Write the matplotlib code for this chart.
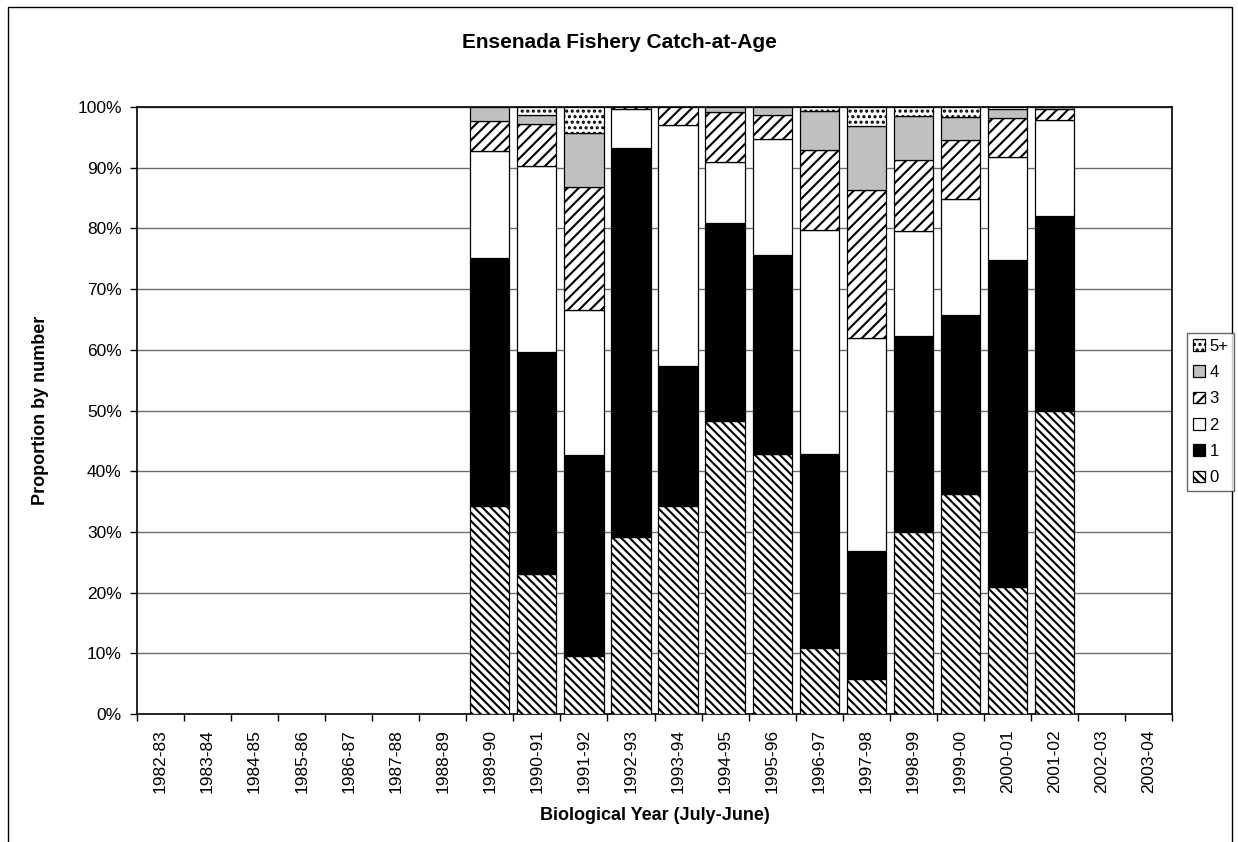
import numpy as np
import matplotlib
matplotlib.use("Agg")
import matplotlib.pyplot as plt
from matplotlib.patches import Patch, Rectangle
from matplotlib.ticker import FuncFormatter, MultipleLocator

plt.rcParams['font.family'] = ['Liberation Sans', 'DejaVu Sans']
plt.rcParams['hatch.linewidth'] = 1.5

years = ["1982-83", "1983-84", "1984-85", "1985-86", "1986-87", "1987-88", "1988-89",
         "1989-90", "1990-91", "1991-92", "1992-93", "1993-94", "1994-95", "1995-96",
         "1996-97", "1997-98", "1998-99", "1999-00", "2000-01", "2001-02", "2002-03", "2003-04"]

# proportions (%) by age; years without data are 0
age0 = [0, 0, 0, 0, 0, 0, 0, 34.3, 23.1, 9.6, 29.2, 34.2, 48.3, 42.9, 10.9, 5.7, 30.0, 36.2, 20.9, 50.0, 0, 0]
age1 = [0, 0, 0, 0, 0, 0, 0, 40.9, 36.6, 33.1, 64.1, 23.2, 32.6, 32.8, 31.9, 21.2, 32.3, 29.5, 53.9, 32.1, 0, 0]
age2 = [0, 0, 0, 0, 0, 0, 0, 17.6, 30.5, 23.9, 6.4, 39.7, 10.1, 19.0, 36.9, 35.0, 17.3, 19.2, 17.0, 15.8, 0, 0]
age3 = [0, 0, 0, 0, 0, 0, 0, 4.9, 7.0, 20.2, 0.3, 2.9, 8.1, 4.0, 13.2, 24.4, 11.6, 9.7, 6.4, 1.8, 0, 0]
age4 = [0, 0, 0, 0, 0, 0, 0, 2.3, 1.4, 8.9, 0.0, 0.0, 0.9, 1.3, 6.5, 10.6, 7.3, 3.8, 1.5, 0.3, 0, 0]
age5 = [0, 0, 0, 0, 0, 0, 0, 0.0, 1.4, 4.3, 0.0, 0.0, 0.0, 0.0, 0.6, 3.1, 1.5, 1.6, 0.3, 0.0, 0, 0]

labels = ["0", "1", "2", "3", "4", "5+"]
series = [age0, age1, age2, age3, age4, age5]
styles = [
    dict(facecolor="white", hatch="\\\\\\\\"),
    dict(facecolor="black", hatch=None),
    dict(facecolor="white", hatch=None),
    dict(facecolor="white", hatch="///"),
    dict(facecolor="#c0c0c0", hatch=None),
    dict(facecolor="white", hatch="..."),
]

W, H = 1238, 842
fig = plt.figure(figsize=(W / 100, H / 100), dpi=100)
ax = fig.add_axes([137 / W, 1 - 714 / H, (1172 - 137) / W, (714 - 107) / H])

x = np.arange(len(years))
bottom = np.zeros(len(years))
for vals, st in zip(series, styles):
    v = np.array(vals, dtype=float)
    m = v > 0
    ax.bar(x[m], v[m], bottom=bottom[m], width=0.833, edgecolor="black",
           linewidth=0.9, zorder=3, **st)
    bottom += v

ax.set_xlim(-0.5, len(years) - 0.5)
ax.set_ylim(0, 100)
ax.yaxis.set_major_locator(MultipleLocator(10))
ax.yaxis.set_major_formatter(FuncFormatter(lambda v, p: f"{v:.0f}%"))
ax.grid(axis="y", color="#6e6e6e", linewidth=1.0, zorder=0)
ax.set_axisbelow(True)

ax.set_xticks(x)
ax.set_xticklabels(years, rotation=90, fontsize=12.5)
ax.set_xticks(np.arange(-0.5, len(years), 1.0), minor=True)
ax.tick_params(axis="x", which="major", length=0, pad=11)
ax.tick_params(axis="x", which="minor", length=5, width=1, direction="out")
ax.tick_params(axis="y", length=5, width=1, direction="out", labelsize=12.5, pad=6)
for s in ax.spines.values():
    s.set_linewidth(1.2)
    s.set_color("black")

ax.set_xlabel("Biological Year (July-June)", fontsize=13, fontweight="bold", labelpad=10)
ax.set_ylabel("Proportion by number", fontsize=13, fontweight="bold", labelpad=20)
fig.text(0.5, 1 - 43 / H, "Ensenada Fishery Catch-at-Age", ha="center", va="center",
         fontsize=15, fontweight="bold")

handles = [Patch(edgecolor="black", linewidth=0.9, **st) for st in styles][::-1]
leg = fig.legend(handles, labels[::-1], loc="center left",
                 bbox_to_anchor=(1187 / W, 1 - 412 / H), fontsize=12,
                 frameon=True, fancybox=False, shadow=False, handlelength=0.7,
                 handleheight=0.7, handletextpad=0.3, labelspacing=0.68,
                 borderpad=0.35, borderaxespad=0)
leg.get_frame().set_edgecolor("#404040")
leg.get_frame().set_linewidth(1.0)

fig.patches.append(Rectangle((8 / W, -0.05), (1232 - 8) / W, 1 - 7 / H + 0.05,
                             transform=fig.transFigure, fill=False,
                             edgecolor="black", linewidth=1.0))

fig.savefig("out.png", dpi=100)
